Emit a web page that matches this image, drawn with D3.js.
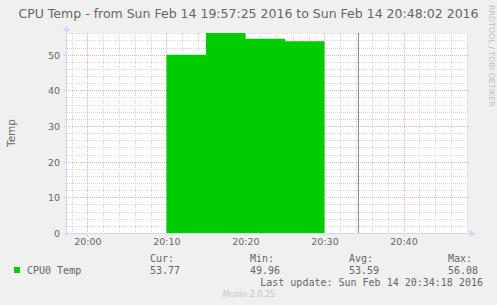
<!DOCTYPE html>
<html><head><meta charset="utf-8">
<script src="https://cdn.jsdelivr.net/npm/d3@7"></script>
<style>
html,body{margin:0;padding:0;background:#f0f0f0;}
svg{display:block;}
</style></head>
<body>
<svg id="c" width="497" height="305"></svg>
<script>
// ---- data ----
const titleText = "CPU Temp - from Sun Feb 14 19:57:25 2016 to Sun Feb 14 20:48:02 2016";
const rangeStart = "2016-02-14T19:57:25";
const rangeEnd = "2016-02-14T20:48:02";
const stepTimes = ["2016-02-14T20:10:00","2016-02-14T20:15:00","2016-02-14T20:20:00","2016-02-14T20:25:00","2016-02-14T20:30:00"];
const stepValues = [49.96, 56.08, 54.45, 53.77, 53.77];
const nowTime = "2016-02-14T20:34:18";
const yMax = 56.08;
const yTicks = [0, 10, 20, 30, 40, 50];
const seriesName = "CPU0 Temp";
const statLabels = ["Cur:", "Min:", "Avg:", "Max:"];
const statValues = ["53.77", "49.96", "53.59", "56.08"];
const lastUpdate = "Last update: Sun Feb 14 20:34:18 2016";
const yLabel = "Temp";
const watermark = "RRDTOOL / TOBI OETIKER";
const footer = "Munin 2.0.25";

// ---- layout ----
const P = {l: 67, r: 467, t: 33, b: 233};
const fontCol = "#666666";
const axisCol = "#CFD6F8";
const green = "#00CC00";
const parseT = s => new Date(s + "Z");

const svg = d3.select("#c");
svg.append("rect").attr("width", 497).attr("height", 305).attr("fill", "#f0f0f0");

const x = d3.scaleUtc().domain([parseT(rangeStart), parseT(rangeEnd)]).range([P.l, P.r]);
const y = d3.scaleLinear().domain([0, yMax]).range([P.b, P.t]);

// canvas
svg.append("rect").attr("x", P.l).attr("y", P.t).attr("width", P.r - P.l).attr("height", P.b - P.t).attr("fill", "#fff");

// grid (under the data)
const g = svg.append("g").attr("shape-rendering", "crispEdges");
const minorX = x.ticks(d3.utcMinute.every(2)).filter(d => d.getUTCMinutes() % 10 !== 0);
const majorX = x.ticks(d3.utcMinute.every(10));
const minorY = d3.range(0, yMax, 2).filter(v => v % 10 !== 0);
const minorStyle = sel => sel.attr("stroke", "#d6d6d6").attr("stroke-dasharray", "1,1").attr("stroke-width", 1);
const majorStyle = sel => sel.attr("stroke", "#ebb0b0").attr("stroke-dasharray", "1,1").attr("stroke-width", 1);

g.selectAll(".mx").data(minorX).join("line")
  .attr("x1", d => Math.round(x(d)) + 0.5).attr("x2", d => Math.round(x(d)) + 0.5)
  .attr("y1", P.t).attr("y2", P.b + 2).call(minorStyle);
g.selectAll(".my").data(minorY).join("line")
  .attr("y1", d => Math.round(y(d)) + 0.5).attr("y2", d => Math.round(y(d)) + 0.5)
  .attr("x1", P.l - 2).attr("x2", P.r).call(minorStyle);
g.selectAll(".Mx").data(majorX).join("line")
  .attr("x1", d => Math.round(x(d)) + 0.5).attr("x2", d => Math.round(x(d)) + 0.5)
  .attr("y1", P.t).attr("y2", P.b + 3).call(majorStyle);
g.selectAll(".My").data(yTicks.filter(v => v > 0)).join("line")
  .attr("y1", d => Math.round(y(d)) + 0.5).attr("y2", d => Math.round(y(d)) + 0.5)
  .attr("x1", P.l - 3).attr("x2", P.r + 2).call(majorStyle);

// data area
const pts = stepTimes.map((t, i) => ({t: parseT(t), v: stepValues[i]}));
svg.append("path").datum(pts)
  .attr("d", d3.area().curve(d3.curveStepAfter).x(d => x(d.t)).y0(y(0)).y1(d => y(d.v)))
  .attr("fill", green);

const g2 = svg.append("g").attr("shape-rendering", "crispEdges");
// now line
g2.append("line").attr("x1", Math.round(x(parseT(nowTime))) + 0.5).attr("x2", Math.round(x(parseT(nowTime))) + 0.5)
  .attr("y1", P.t).attr("y2", P.b).attr("stroke", "#8c8c8c");

// axes lines + arrows
g2.append("line").attr("x1", P.l - 2).attr("x2", P.r + 4).attr("y1", P.b + 0.5).attr("y2", P.b + 0.5).attr("stroke", axisCol);
g2.append("line").attr("x1", P.l - 0.5).attr("x2", P.l - 0.5).attr("y1", P.t - 3).attr("y2", P.b + 3).attr("stroke", axisCol);
svg.append("path").attr("d", `M${P.r + 3},${P.b - 3.5} L${P.r + 8},${P.b + 0.5} L${P.r + 3},${P.b + 4.5} Z`).attr("fill", axisCol);
svg.append("path").attr("d", `M${P.l - 4.5},${P.t - 2} L${P.l - 0.5},${P.t - 7} L${P.l + 3.5},${P.t - 2} Z`).attr("fill", axisCol);

// axis labels using d3 axes (tick lines hidden)
const yAxis = svg.append("g").attr("transform", `translate(${P.l},0)`)
  .call(d3.axisLeft(y).tickValues(yTicks).tickSize(0).tickPadding(7).tickFormat(d3.format("d")));
yAxis.select(".domain").remove();
yAxis.selectAll("text").attr("font-family", "DejaVu Sans").attr("font-size", "9.5px").attr("fill", fontCol).attr("dy", "0.36em");

const xAxis = svg.append("g").attr("transform", `translate(0,${P.b})`)
  .call(d3.axisBottom(x).ticks(d3.utcMinute.every(10)).tickSize(0).tickPadding(5).tickFormat(d3.utcFormat("%H:%M")));
xAxis.select(".domain").remove();
xAxis.selectAll("text").attr("font-family", "DejaVu Sans").attr("font-size", "9.5px").attr("fill", fontCol);

// title
svg.append("text").attr("x", 248.5).attr("y", 18).attr("text-anchor", "middle")
  .attr("font-family", "DejaVu Sans").attr("font-size", "12.5px").attr("fill", fontCol).text(titleText);

// y label
svg.append("text").attr("transform", "translate(15,133) rotate(-90)").attr("text-anchor", "middle")
  .attr("font-family", "DejaVu Sans").attr("font-size", "10.5px").attr("fill", fontCol).text(yLabel);

// watermark
svg.append("text").attr("transform", "translate(489,5) rotate(90)")
  .attr("font-family", "DejaVu Sans").attr("font-size", "7.9px").attr("fill", "#bdbdbd").text(watermark);

// legend
const mono = "DejaVu Sans Mono";
const colX = [150, 250, 349, 448];
svg.selectAll(".sl").data(statLabels).join("text")
  .attr("x", (d, i) => colX[i]).attr("y", 262)
  .attr("font-family", mono).attr("font-size", "10px").attr("fill", fontCol).text(d => d);
svg.selectAll(".sv").data(statValues).join("text")
  .attr("x", (d, i) => colX[i]).attr("y", 274)
  .attr("font-family", mono).attr("font-size", "10px").attr("fill", fontCol).text(d => d);
svg.append("rect").attr("x", 14).attr("y", 267).attr("width", 6).attr("height", 6).attr("fill", green);
svg.append("text").attr("x", 27).attr("y", 274).attr("font-family", mono).attr("font-size", "10px").attr("fill", fontCol).text(seriesName);
svg.append("text").attr("x", 483).attr("y", 286).attr("text-anchor", "end").attr("font-family", mono).attr("font-size", "10px").attr("fill", fontCol).text(lastUpdate);
svg.append("text").attr("x", 249).attr("y", 297).attr("text-anchor", "middle").attr("font-family", "DejaVu Sans").attr("font-size", "8px").attr("fill", "#c4c4c4").text(footer);
</script>
</body></html>
